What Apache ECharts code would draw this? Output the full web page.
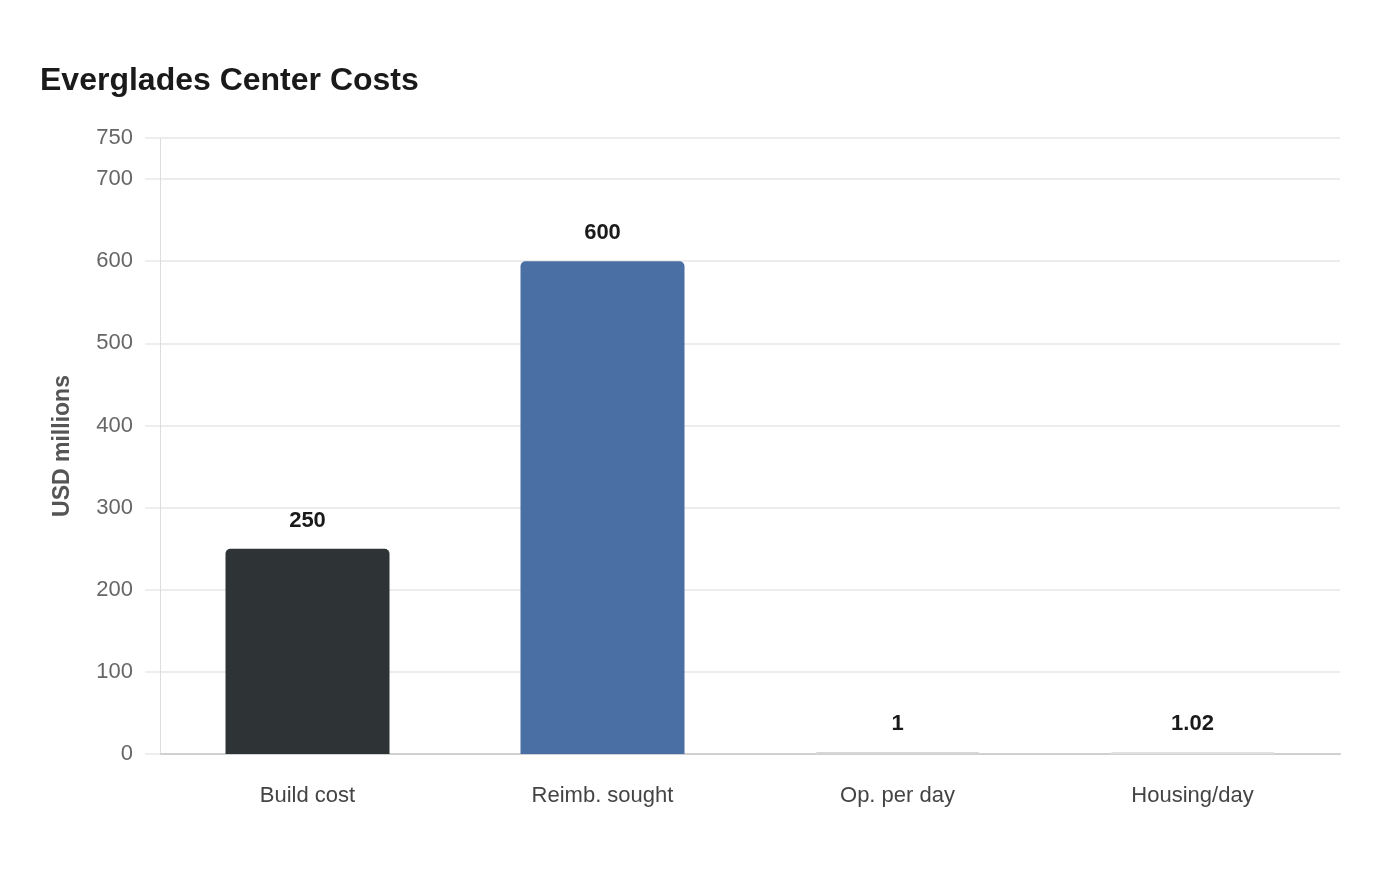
<!DOCTYPE html>
<html>
<head>
<meta charset="utf-8">
<script src="https://cdn.jsdelivr.net/npm/echarts@6/dist/echarts.min.js"></script>
<style>
  html, body { margin: 0; padding: 0; background: #fff; }
  #chart { width: 1400px; height: 880px; }
</style>
</head>
<body>
<div id="chart"></div>
<script>
var categories = ['Build cost', 'Reimb. sought', 'Op. per day', 'Housing/day'];
var values = [250, 600, 1, 1.02];
var barColors = ['#2e3436', '#4a6fa5', '#d6d6d6', '#e0e0e0'];
var yTicks = { min: 0, max: 750, interval: 100 };

var chart = echarts.init(document.getElementById('chart'));
var option = {
  backgroundColor: '#ffffff',
  textStyle: { fontFamily: 'Liberation Sans, Arial, sans-serif' },
  title: {
    text: 'Everglades Center Costs',
    left: 35,
    top: 60,
    textStyle: { fontSize: 32, fontWeight: 'bold', color: '#1a1a1a' }
  },
  grid: { left: 160, right: 60, top: 138, bottom: 126 },
  xAxis: {
    type: 'category',
    data: categories,
    axisLine: { show: true, lineStyle: { color: '#d0d0d0', width: 2 } },
    axisTick: { show: false },
    axisLabel: { color: '#444', fontSize: 22, margin: 31 }
  },
  yAxis: {
    type: 'value',
    min: yTicks.min,
    max: yTicks.max,
    interval: yTicks.interval,
    name: 'USD millions',
    nameLocation: 'middle',
    nameGap: 86,
    nameTextStyle: { color: '#555', fontSize: 23, fontWeight: 'bold' },
    axisLine: { show: true, lineStyle: { color: '#d6d6d6', type: 'dotted', width: 1 } },
    axisTick: { show: true, length: 15, lineStyle: { color: '#eeeeee', width: 2 } },
    axisLabel: { color: '#666', fontSize: 22, margin: 27 },
    splitLine: { show: true, lineStyle: { color: '#ececec', width: 2 } }
  },
  series: [{
    type: 'bar',
    barWidth: 164,
    barMinHeight: 2,
    data: values.map(function (v, i) {
      return { value: v, itemStyle: { color: barColors[i], borderRadius: [5, 5, 0, 0] } };
    }),
    label: {
      show: true,
      position: 'top',
      distance: 17,
      color: '#1a1a1a',
      fontSize: 22,
      fontWeight: 'bold'
    }
  }]
};
chart.setOption(option);
</script>
</body>
</html>
